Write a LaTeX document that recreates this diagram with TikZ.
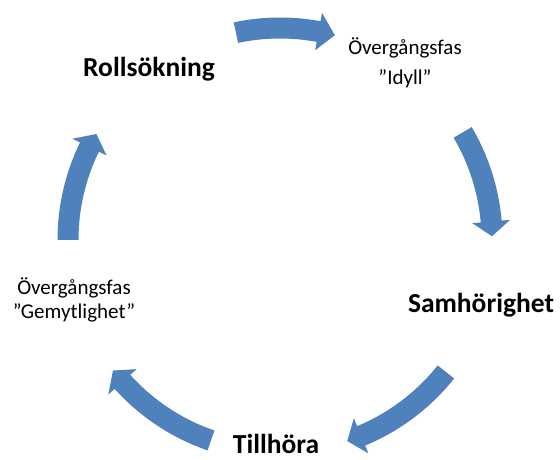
\documentclass[tikz,border=0pt]{standalone}
\usepackage{fontspec}
\setmainfont{Carlito}
\definecolor{arrowblue}{HTML}{4F81BD}
\tikzset{
  stage/.style={anchor=base, inner sep=0pt, font=\bfseries\fontsize{27.5}{30}\selectfont},
  phase/.style={anchor=base, inner sep=0pt, font=\fontsize{21}{24}\selectfont},
  cyclearrow/.style={fill=arrowblue, draw=none}
}
% curved block arrow on the circle around the origin of the current scope:
% #1 tail angle, #2 angle where the head starts, #3 tip angle
\newcommand{\cyclearc}[3]{%
  \fill[cyclearrow]
    (#1:222.5pt) arc[start angle=#1, end angle=#2, radius=222.5pt]
    -- (#2:231pt) -- (#3:212pt) -- (#2:193pt) -- (#2:201.5pt)
    arc[start angle=#2, end angle=#1, radius=201.5pt] -- cycle;}
\begin{document}
\begin{tikzpicture}[x=1pt, y=1pt]
  \useasboundingbox (0,0) rectangle (560,460);
  % the five arrows of the cycle
  \begin{scope}[shift={(280,220)}]
    \cyclearc{102}{79.5}{75}
    \cyclearc{30.5}{5}{1}
    \cyclearc{-38.5}{-67.5}{-71.5}
    \cyclearc{251}{222}{218}
    \cyclearc{180}{154}{150}
  \end{scope}
  % stage labels
  \node[stage] (roll) at (149,383) {Rollsökning};
  \node[phase] (idyllA) at (405,405) {Övergångsfas};
  \node[phase] (idyllB) at (405,375) {”Idyll”};
  \node[stage] (samh) at (481,147) {Samhörighet};
  \node[stage] (till) at (276,6) {Tillhöra};
  \node[phase] (gemA) at (74,165) {Övergångsfas};
  \node[phase] (gemB) at (74,141) {”Gemytlighet”};
\end{tikzpicture}
\end{document}
